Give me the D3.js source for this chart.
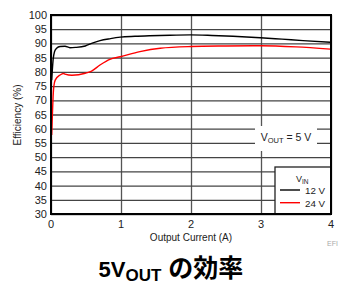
<!DOCTYPE html>
<html>
<head>
<meta charset="utf-8">
<script src="https://cdn.jsdelivr.net/npm/d3@7"></script>
<style>
    body { margin: 0; background: #fff; }
    text { font-family: "Liberation Sans", Arial, sans-serif; }
</style>
</head>
<body>
<svg id="chart" width="339" height="286"></svg>
<script>
// data
const current12 = [0.01, 0.02, 0.03, 0.05, 0.08, 0.13, 0.2, 0.27, 0.35, 0.49, 0.6, 0.7, 0.85, 0.99, 1.2, 1.41, 1.7, 1.99, 2.3, 2.6, 2.99, 3.3, 3.6, 3.99];
const eff12 = [77.1, 81.0, 84.2, 87.1, 88.3, 88.9, 89.0, 88.5, 88.6, 89.1, 90.2, 91.0, 91.7, 92.2, 92.5, 92.7, 92.9, 93.0, 92.8, 92.5, 92.0, 91.5, 91.0, 90.4];
const current24 = [0.01, 0.02, 0.03, 0.04, 0.06, 0.13, 0.18, 0.2, 0.3, 0.49, 0.58, 0.7, 0.84, 0.99, 1.27, 1.56, 2.0, 2.5, 3.0, 3.5, 3.99];
const eff24 = [57.8, 65.0, 71.3, 74.8, 77.1, 78.9, 79.4, 79.2, 78.8, 79.5, 80.3, 82.4, 84.4, 85.3, 87.1, 88.3, 88.9, 89.1, 89.2, 88.8, 88.0];
const xTicks = [0, 1, 2, 3, 4];
const yTicks = [30, 35, 40, 45, 50, 55, 60, 65, 70, 75, 80, 85, 90, 95, 100];
const legendNames = ["12 V", "24 V"];
const legendColors = ["#000", "#f00"];

const svg = d3.select("#chart");
const plotLeft = 51, plotRight = 331, plotTop = 15, plotBottom = 214;

const x = d3.scaleLinear().domain([0, 4]).range([plotLeft, plotRight]);
const y = d3.scaleLinear().domain([30, 100]).range([plotBottom, plotTop]);

// grid
svg.append("g")
    .attr("transform", "translate(0," + plotBottom + ")")
    .call(d3.axisBottom(x).tickValues(xTicks).tickSize(-(plotBottom - plotTop)).tickFormat(""))
    .call(g => g.select(".domain").remove())
    .selectAll("line").attr("stroke", "#555").attr("stroke-width", 1.3);

svg.append("g")
    .attr("transform", "translate(" + plotLeft + ",0)")
    .call(d3.axisLeft(y).tickValues(yTicks).tickSize(-(plotRight - plotLeft)).tickFormat(""))
    .call(g => g.select(".domain").remove())
    .selectAll("line").attr("stroke", "#444").attr("stroke-width", 1.3);

// tick labels
svg.append("g").selectAll("text")
    .data(yTicks)
    .enter()
    .append("text")
    .attr("x", plotLeft - 4)
    .attr("y", d => y(d) + 4)
    .attr("text-anchor", "end")
    .attr("font-size", 11)
    .attr("fill", "#222")
    .text(d => d);

svg.append("g").selectAll("text")
    .data(xTicks)
    .enter()
    .append("text")
    .attr("x", d => x(d))
    .attr("y", plotBottom + 14)
    .attr("text-anchor", "middle")
    .attr("font-size", 11)
    .attr("fill", "#222")
    .text(d => d);

// curves
var line = d3.line()
    .x(d => x(d[0]))
    .y(d => y(d[1]))
    .curve(d3.curveMonotoneX);

svg.append("path")
    .datum(d3.zip(current12, eff12))
    .attr("fill", "none")
    .attr("stroke", legendColors[0])
    .attr("stroke-width", 1.4)
    .attr("d", line);

svg.append("path")
    .datum(d3.zip(current24, eff24))
    .attr("fill", "none")
    .attr("stroke", legendColors[1])
    .attr("stroke-width", 1.4)
    .attr("d", line);

// VOUT label
svg.append("rect")
    .attr("x", 255).attr("y", 126).attr("width", 62).attr("height", 25)
    .attr("fill", "#fff");
var vout = svg.append("text")
    .attr("x", 286).attr("y", 141)
    .attr("text-anchor", "middle")
    .attr("font-size", 10.5)
    .attr("fill", "#222");
vout.append("tspan").text("V");
vout.append("tspan").attr("font-size", 7.5).attr("dy", 2).text("OUT");
vout.append("tspan").attr("dy", -2).text(" = 5 V");

// legend
svg.append("rect")
    .attr("x", 275).attr("y", 167).attr("width", plotRight - 275).attr("height", plotBottom - 167)
    .attr("fill", "#fff").attr("stroke", "#222").attr("stroke-width", 1.3);
var vin = svg.append("text")
    .attr("x", 296).attr("y", 181.5)
    .attr("font-size", 9)
    .attr("fill", "#222");
vin.append("tspan").text("V");
vin.append("tspan").attr("font-size", 6.5).attr("dy", 2).text("IN");

legendNames.forEach(function(name, i) {
    svg.append("line")
        .attr("x1", 280).attr("x2", 300)
        .attr("y1", 190 + i * 12.7).attr("y2", 190 + i * 12.7)
        .attr("stroke", legendColors[i]).attr("stroke-width", 1.4);
    svg.append("text")
        .attr("x", 305).attr("y", 193.5 + i * 13)
        .attr("font-size", 9.8)
        .attr("fill", "#222")
        .text(name);
});

// frame
svg.append("rect")
    .attr("x", plotLeft).attr("y", plotTop).attr("width", plotRight - plotLeft).attr("height", plotBottom - plotTop)
    .attr("fill", "none").attr("stroke", "#000").attr("stroke-width", 2);

// axis titles
svg.append("text")
    .attr("x", 191).attr("y", 241)
    .attr("text-anchor", "middle")
    .attr("font-size", 10)
    .attr("fill", "#222")
    .text("Output Current (A)");

svg.append("text")
    .attr("transform", "translate(21,115) rotate(-90)")
    .attr("text-anchor", "middle")
    .attr("font-size", 10)
    .attr("fill", "#222")
    .text("Efficiency (%)");

svg.append("text")
    .attr("x", 327).attr("y", 246)
    .attr("font-size", 7)
    .attr("fill", "#aaa")
    .text("EFI");

// title
var title = svg.append("text")
    .attr("x", 171).attr("y", 277)
    .attr("text-anchor", "middle")
    .attr("font-size", 22)
    .attr("font-weight", "bold")
    .attr("fill", "#000")
    .style("font-family", "'Liberation Sans', 'Noto Sans CJK JP', sans-serif");
title.append("tspan").text("5V");
title.append("tspan").attr("font-size", 17).attr("dy", 4).text("OUT");
title.append("tspan").attr("dy", -4).attr("font-size", 25).text(" の効率");
</script>
</body>
</html>
